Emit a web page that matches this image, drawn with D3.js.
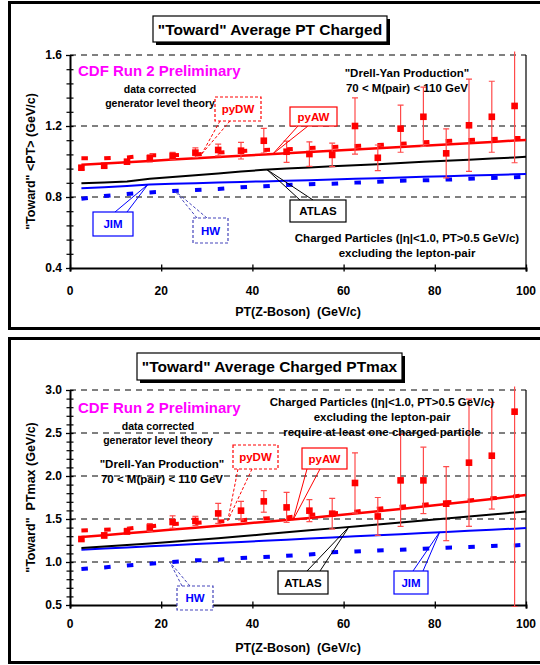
<!DOCTYPE html>
<html><head><meta charset="utf-8">
<script src="https://cdnjs.cloudflare.com/ajax/libs/d3/7.8.5/d3.min.js"></script>
<style>
html,body{margin:0;padding:0;background:#fff;}
svg{display:block;font-family:"Liberation Sans",Arial,sans-serif;font-weight:bold;}
text{white-space:pre;}
</style></head>
<body><svg id="c" width="540" height="665"></svg>
<script>
// ---------- data ----------
const xBins = [2.5,7.5,12.5,17.5,22.5,27.5,32.5,37.5,42.5,47.5,52.5,57.5,62.5,67.5,72.5,77.5,82.5,87.5,92.5,97.5];
const modelX = [...xBins, 100];
const xTicks = [0,20,40,60,80,100];

// Top panel: "Toward" Average PT Charged
const topYTicks = [0.4,0.8,1.2,1.6];
const topYLabels = ["0.4","0.8","1.2","1.6"];
const topData = [0.965,0.976,0.999,1.018,1.031,1.050,1.065,1.061,1.117,1.055,1.042,1.037,1.200,1.021,1.185,1.252,1.046,1.204,1.252,1.313];
const topErr  = [0.010,0.010,0.012,0.020,0.020,0.027,0.033,0.047,0.070,0.060,0.069,0.066,0.158,0.072,0.133,0.167,0.138,0.260,0.200,0.320];
const topPyDW = [1.018,1.018,1.023,1.035,1.035,1.040,1.050,1.059,1.065,1.069,1.076,1.082,1.087,1.093,1.100,1.108,1.115,1.121,1.127,1.132,1.134];
const topPyAW = [0.982,0.989,0.996,1.003,1.011,1.018,1.025,1.032,1.039,1.046,1.053,1.060,1.068,1.075,1.082,1.089,1.096,1.103,1.110,1.118,1.121];
const topAtlas= [0.877,0.882,0.888,0.903,0.913,0.923,0.933,0.943,0.953,0.960,0.966,0.973,0.979,0.985,0.992,0.998,1.004,1.010,1.017,1.023,1.027];
const topJim  = [0.849,0.855,0.862,0.870,0.874,0.877,0.881,0.885,0.888,0.892,0.895,0.899,0.903,0.906,0.910,0.914,0.917,0.921,0.924,0.928,0.930];
const topHW   = [0.790,0.806,0.817,0.826,0.834,0.840,0.845,0.855,0.860,0.868,0.872,0.875,0.881,0.886,0.892,0.894,0.898,0.903,0.907,0.911,0.914];

// Bottom panel: "Toward" Average Charged PTmax
const botYTicks = [0.5,1.0,1.5,2.0,2.5,3.0];
const botYLabels = ["0.5","1.0","1.5","2.0","2.5","3.0"];
const botData = [1.267,1.309,1.356,1.402,1.465,1.477,1.565,1.597,1.705,1.635,1.597,1.562,1.919,1.530,1.949,1.949,1.678,2.155,2.236,2.748];
const botErr  = [0.020,0.030,0.035,0.045,0.072,0.054,0.116,0.107,0.126,0.174,0.128,0.178,0.350,0.220,0.535,0.386,0.430,0.740,0.620,2.270];
const botPyDW = [1.367,1.376,1.387,1.414,1.442,1.453,1.472,1.484,1.507,1.519,1.547,1.565,1.585,1.620,1.643,1.666,1.693,1.716,1.740,1.763,1.783];
const botPyAW = [1.291,1.312,1.334,1.355,1.377,1.399,1.421,1.443,1.466,1.489,1.513,1.538,1.564,1.590,1.617,1.645,1.674,1.703,1.733,1.764,1.780];
const botAtlas= [1.163,1.180,1.198,1.216,1.235,1.255,1.277,1.299,1.322,1.345,1.368,1.391,1.414,1.437,1.460,1.483,1.506,1.529,1.552,1.576,1.588];
const botJim  = [1.143,1.156,1.169,1.182,1.195,1.208,1.220,1.233,1.246,1.259,1.272,1.285,1.298,1.311,1.324,1.337,1.350,1.362,1.375,1.388,1.395];
const botHW   = [0.919,0.937,0.960,0.980,1.000,1.019,1.027,1.046,1.058,1.073,1.088,1.112,1.123,1.135,1.143,1.155,1.166,1.174,1.186,1.193,1.201];

// ---------- drawing ----------
const svg = d3.select("#c");
const RED = "#ff0000", BLUE = "#0000ff";

function panel(cfg){
  const g = svg.append("g");
  g.append("rect").attr("x",cfg.frame[0]).attr("y",cfg.frame[1]).attr("width",cfg.frame[2]).attr("height",cfg.frame[3])
    .attr("fill","none").attr("stroke","#000").attr("stroke-width",3);

  const x = d3.scaleLinear().domain([0,100]).range([70,526]);
  const y = d3.scaleLinear().domain(cfg.yDomain).range(cfg.yRange);
  const [yb, yt] = cfg.yRange;

  g.selectAll(".grid").data(cfg.grid).join("line")
    .attr("x1",x(0)).attr("x2",x(100)).attr("y1",d=>y(d)).attr("y2",d=>y(d))
    .attr("stroke","#000").attr("stroke-width",1).attr("stroke-dasharray","6,5");
  g.append("line").attr("x1",x(100)).attr("x2",x(100)).attr("y1",yt).attr("y2",yb).attr("stroke","#000").attr("stroke-width",1.2);

  const ax = g.append("g").attr("transform",`translate(0,${yb})`)
    .call(d3.axisBottom(x).tickValues(xTicks).tickSize(3.5).tickFormat(""));
  ax.select(".domain").attr("stroke-width",2);
  ax.selectAll(".tick line").attr("y1",-3.5).attr("stroke-width",1.3);
  g.selectAll(".xl").data(xTicks).join("text").attr("x",d=>x(d)).attr("y",yb+cfg.xLabelDy)
    .attr("text-anchor","middle").attr("font-size",12).text(d=>d);

  const ayMinor = g.append("g").attr("transform",`translate(${x(0)},0)`)
    .call(d3.axisLeft(y).tickValues(cfg.minor).tickSize(3.5).tickFormat(""));
  ayMinor.select(".domain").remove();
  ayMinor.selectAll(".tick line").attr("x1",3.5).attr("stroke-width",1.2);
  const ay = g.append("g").attr("transform",`translate(${x(0)},0)`)
    .call(d3.axisLeft(y).tickValues(cfg.yTicks).tickSize(4).tickSizeOuter(0).tickFormat((d,i)=>cfg.yLabels[i]));
  ay.select(".domain").attr("stroke-width",2);
  ay.selectAll(".tick line").attr("x1",3.5).attr("stroke-width",1.3);
  ay.selectAll(".tick text").attr("x",-8).attr("font-size",12).attr("font-family","Liberation Sans, Arial, sans-serif").attr("font-weight","bold").attr("fill","#000");

  g.append("text").attr("x",298).attr("y",yb+cfg.xTitleDy).attr("text-anchor","middle").attr("font-size",12.5)
    .attr("xml:space","preserve").text("PT(Z-Boson)  (GeV/c)");
  g.append("text").attr("transform",`translate(35,${(yb+yt)/2}) rotate(-90)`).attr("text-anchor","middle")
    .attr("font-size",12.5).attr("xml:space","preserve").text(cfg.yTitle);

  const cid = "clip"+cfg.id;
  g.append("clipPath").attr("id",cid).append("rect").attr("x",x(0)).attr("y",yt-3.5).attr("width",x(100)-x(0)+6).attr("height",yb-yt+5.5);
  const plot = g.append("g").attr("clip-path",`url(#${cid})`);

  const line = arr => d3.line().x((d,i)=>x(modelX[i])).y(d=>y(d))(arr);
  plot.append("path").attr("d",line(cfg.hw)).attr("fill","none").attr("stroke",BLUE).attr("stroke-width",4).attr("stroke-dasharray","6.5,16.3");
  plot.append("path").attr("d",line(cfg.jim)).attr("fill","none").attr("stroke",BLUE).attr("stroke-width",2);
  plot.append("path").attr("d",line(cfg.atlas)).attr("fill","none").attr("stroke","#000").attr("stroke-width",2);
  plot.append("path").attr("d",line(cfg.pydw)).attr("fill","none").attr("stroke",RED).attr("stroke-width",4).attr("stroke-dasharray","6.5,16.3");
  plot.append("path").attr("d",line(cfg.pyaw)).attr("fill","none").attr("stroke",RED).attr("stroke-width",2.5);

  const pts = xBins.map((xv,i)=>({x:xv,v:cfg.data[i],e:cfg.err[i]}));
  const eb = plot.selectAll(".eb").data(pts).join("g").attr("stroke","#ff4a4a").attr("stroke-width",1.2);
  eb.append("line").attr("x1",d=>x(d.x)).attr("x2",d=>x(d.x)).attr("y1",d=>y(d.v+d.e)).attr("y2",d=>y(d.v-d.e));
  eb.append("line").attr("x1",d=>x(d.x)-3).attr("x2",d=>x(d.x)+3).attr("y1",d=>y(d.v+d.e)).attr("y2",d=>y(d.v+d.e));
  eb.append("line").attr("x1",d=>x(d.x)-3).attr("x2",d=>x(d.x)+3).attr("y1",d=>y(d.v-d.e)).attr("y2",d=>y(d.v-d.e));
  plot.selectAll(".pt").data(pts).join("rect").attr("x",d=>x(d.x)-3.3).attr("y",d=>y(d.v)-3.3).attr("width",6.6).attr("height",6.6).attr("fill","#f00");

  const t = cfg.title;
  g.append("rect").attr("x",t.x+3).attr("y",t.y+3).attr("width",t.w).attr("height",t.h).attr("fill","#000");
  g.append("rect").attr("x",t.x).attr("y",t.y).attr("width",t.w).attr("height",t.h).attr("fill","#fff").attr("stroke","#000").attr("stroke-width",1.2);
  g.append("text").attr("x",t.x+t.w/2).attr("y",t.y+t.h/2+5.5).attr("text-anchor","middle").attr("font-size",15.5).text(t.text);

  cfg.texts.forEach(tt=>{
    g.append("text").attr("x",tt.x).attr("y",tt.y).attr("text-anchor",tt.anchor||"middle").attr("font-size",tt.size)
      .attr("fill",tt.color||"#000").text(tt.text);
  });

  cfg.labels.forEach(L=>{
    const tx = x(L.target[0]), ty = y(L.target[1]);
    const dash = L.dashed ? "3,2" : null;
    L.from.forEach(p=>{
      g.append("line").attr("x1",p[0]).attr("y1",p[1]).attr("x2",tx).attr("y2",ty)
        .attr("stroke",L.stroke).attr("stroke-width",1).attr("stroke-dasharray",dash);
    });
    g.append("rect").attr("x",L.box[0]).attr("y",L.box[1]).attr("width",L.box[2]).attr("height",L.box[3])
      .attr("fill","#fff").attr("stroke",L.stroke).attr("stroke-width",1.2).attr("stroke-dasharray",dash);
    g.append("text").attr("x",L.box[0]+L.box[2]/2).attr("y",L.box[1]+L.box[3]/2+4).attr("text-anchor","middle")
      .attr("font-size",11.5).attr("fill",L.color).text(L.text);
  });
}

panel({
  id:"top", frame:[9.5,2.5,560,326], yDomain:[0.4,1.6], yRange:[268,55],
  yTicks:topYTicks, yLabels:topYLabels, grid:[0.8,1.2,1.6],
  minor:d3.range(0,16).map(i=>+(0.4+i*0.08).toFixed(2)).filter(v=>!topYTicks.includes(v)),
  xLabelDy:27, xTitleDy:48, yTitle:"\"Toward\" <PT> (GeV/c)",
  data:topData, err:topErr, pydw:topPyDW, pyaw:topPyAW, atlas:topAtlas, jim:topJim, hw:topHW,
  title:{x:153,y:16,w:234,h:26,text:"\"Toward\" Average PT Charged"},
  texts:[
    {x:78,y:76,size:15,color:"#ff00ff",anchor:"start",text:"CDF Run 2 Preliminary"},
    {x:160,y:93,size:10.5,text:"data corrected"},
    {x:160,y:107,size:10.5,text:"generator level theory"},
    {x:407,y:77,size:11.5,text:"\"Drell-Yan Production\""},
    {x:407,y:92,size:11.5,text:"70 < M(pair) < 110 GeV"},
    {x:407,y:242,size:11.5,text:"Charged Particles (|η|<1.0, PT>0.5 GeV/c)"},
    {x:407,y:257,size:11.5,text:"excluding the lepton-pair"}
  ],
  labels:[
    {text:"pyDW",color:RED,stroke:RED,dashed:true,box:[215,97,46,24],from:[[220,121],[230,121]],target:[28.9,1.043]},
    {text:"pyAW",color:RED,stroke:RED,box:[290,107,47,19],from:[[298,126],[308,126]],target:[44.5,1.043]},
    {text:"ATLAS",color:"#000",stroke:"#000",box:[290,200,56,22],from:[[300,200],[313,200]],target:[43.2,0.954]},
    {text:"JIM",color:BLUE,stroke:BLUE,box:[93,212,40,24],from:[[115,212],[127,212]],target:[17.1,0.871]},
    {text:"HW",color:BLUE,stroke:"#4444bb",dashed:true,box:[193,218,35,25],from:[[197,218],[207,218]],target:[23,0.835]}
  ]
});

panel({
  id:"bot", frame:[9.5,338.5,560,324], yDomain:[0.5,3.0], yRange:[605,390],
  yTicks:botYTicks, yLabels:botYLabels, grid:[1.0,1.5,2.0,2.5,3.0],
  minor:d3.range(5,31).map(i=>+(i*0.1).toFixed(1)).filter(v=>!botYTicks.includes(v)),
  xLabelDy:23, xTitleDy:47, yTitle:"\"Toward\"  PTmax (GeV/c)",
  data:botData, err:botErr, pydw:botPyDW, pyaw:botPyAW, atlas:botAtlas, jim:botJim, hw:botHW,
  title:{x:137,y:353,w:265,h:27,text:"\"Toward\" Average Charged PTmax"},
  texts:[
    {x:78,y:413,size:15,color:"#ff00ff",anchor:"start",text:"CDF Run 2 Preliminary"},
    {x:158,y:430,size:10.5,text:"data corrected"},
    {x:158,y:444,size:10.5,text:"generator level theory"},
    {x:162,y:468,size:11.5,text:"\"Drell-Yan Production\""},
    {x:162,y:483,size:11.5,text:"70 < M(pair) < 110 GeV"},
    {x:382,y:406,size:11.5,text:"Charged Particles (|η|<1.0, PT>0.5 GeV/c)"},
    {x:382,y:421,size:11.5,text:"excluding the lepton-pair"},
    {x:382,y:436,size:11.5,text:"require at least one charged particle"}
  ],
  labels:[
    {text:"pyDW",color:RED,stroke:RED,dashed:true,box:[233,445,45,24],from:[[238,469],[252,469]],target:[34.6,1.48]},
    {text:"pyAW",color:RED,stroke:RED,box:[302,448,45,21],from:[[307,469],[320,469]],target:[48.9,1.487]},
    {text:"ATLAS",color:"#000",stroke:"#000",box:[278,571,50,23],from:[[307,571],[320,571]],target:[61.2,1.41]},
    {text:"JIM",color:BLUE,stroke:BLUE,box:[394,571,34,23],from:[[413,571],[423,571]],target:[81.1,1.351]},
    {text:"HW",color:BLUE,stroke:"#4444bb",dashed:true,box:[177,586,36,24],from:[[182,586],[190,586]],target:[21.9,0.998]}
  ]
});
</script>
</body></html>
